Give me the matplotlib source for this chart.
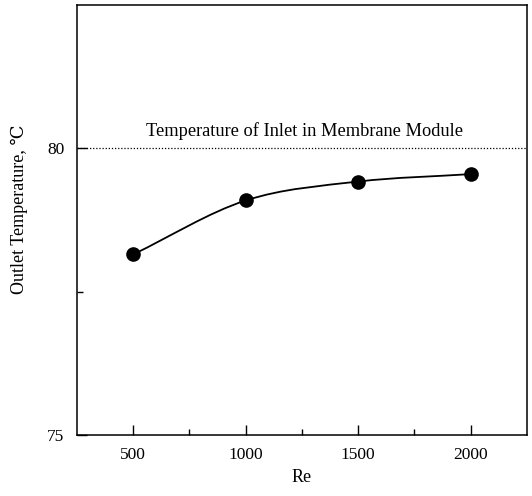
import matplotlib
matplotlib.use("Agg")
import matplotlib.pyplot as plt
from matplotlib.path import Path
from matplotlib.patches import PathPatch
import numpy as np

# Reynolds number vs outlet temperature of the module
re_vals = [500, 1000, 1500, 2000]
t_out = [78.15, 79.09, 79.42, 79.55]
t_inlet = 80.0
inlet_label = "Temperature of Inlet in Membrane Module"

plt.rcParams['font.family'] = ['Liberation Serif', 'DejaVu Serif']

fig = plt.figure(figsize=(5.32, 4.96), dpi=100)
ax = fig.add_axes([0.1447, 0.123, 0.8459, 0.867])

# smooth connecting curve (Catmull-Rom as cubic bezier segments)
x = np.array(re_vals, float)
y = np.array(t_out, float)
px = np.concatenate([[2 * x[0] - x[1]], x, [2 * x[-1] - x[-2]]])
py = np.concatenate([[2 * y[0] - y[1]], y, [2 * y[-1] - y[-2]]])
verts = [(x[0], y[0])]
codes = [Path.MOVETO]
for i in range(1, len(px) - 2):
    c1 = (px[i] + (px[i + 1] - px[i - 1]) / 6, py[i] + (py[i + 1] - py[i - 1]) / 6)
    c2 = (px[i + 1] - (px[i + 2] - px[i]) / 6, py[i + 1] - (py[i + 2] - py[i]) / 6)
    verts += [c1, c2, (px[i + 1], py[i + 1])]
    codes += [Path.CURVE4] * 3
ax.add_patch(PathPatch(Path(verts, codes), fill=False, lw=1.3, color='black'))
ax.plot(re_vals, t_out, 'o', color='black', ms=9.5)

ax.axhline(t_inlet, color='black', lw=0.9, ls=(0, (1, 1.5)))
ax.text(1260, 80.3, inlet_label, ha='center', va='center', fontsize=13.2)

ax.set_xlim(250, 2250)
ax.set_ylim(75, 82.5)
ax.set_xticks([500, 1000, 1500, 2000])
ax.set_xticks([750, 1250, 1750], minor=True)
ax.set_yticks([75, 80])
ax.set_yticks([77.5], minor=True)
ax.tick_params(direction='in', length=7, width=1, labelsize=12.5)
ax.tick_params(which='minor', direction='in', length=4, width=1)
ax.tick_params(axis='x', pad=9)
ax.tick_params(axis='y', pad=9)

for s in ax.spines.values():
    s.set_linewidth(1.1)

ax.set_xlabel("Re", fontsize=13, labelpad=4)
ax.set_ylabel("Outlet Temperature, ℃", fontsize=13)
ax.yaxis.set_label_coords(-0.108, 0.525)

fig.savefig("out.png", dpi=100)
